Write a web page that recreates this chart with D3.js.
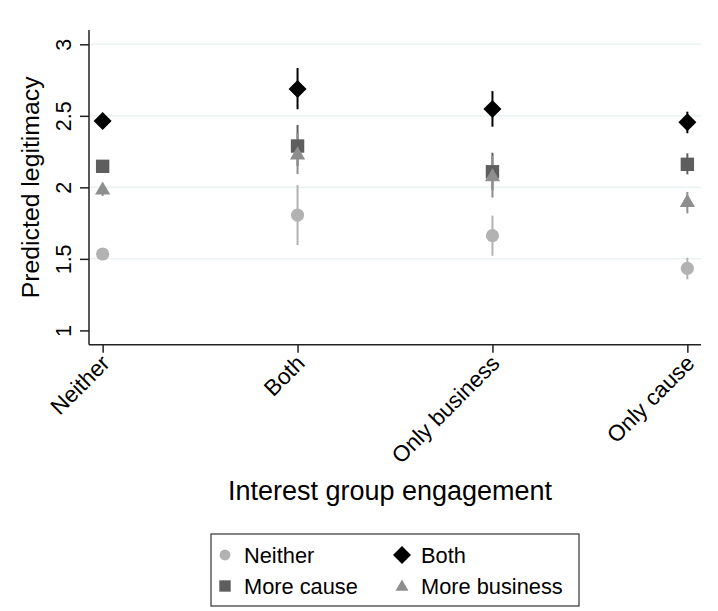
<!DOCTYPE html>
<html><head><meta charset="utf-8">
<script src="https://cdn.jsdelivr.net/npm/d3@7"></script>
<style>body{margin:0;background:#fff}svg{display:block}text{font-family:"Liberation Sans",Arial,sans-serif;fill:#000}</style>
</head><body><svg id="c" width="718" height="611"></svg>
<script>
const categories = ["Neither", "Both", "Only business", "Only cause"];
const seriesNames = ["Neither", "Both", "More cause", "More business"];
const neitherEst = [1.534, 1.806, 1.662, 1.434];
const neitherLo  = [1.494, 1.597, 1.522, 1.357];
const neitherHi  = [1.574, 2.016, 1.802, 1.508];
const bothEst = [2.464, 2.687, 2.548, 2.455];
const bothLo  = [2.424, 2.546, 2.424, 2.378];
const bothHi  = [2.504, 2.834, 2.673, 2.529];
const causeEst = [2.147, 2.289, 2.109, 2.161];
const causeLo  = [2.107, 2.150, 1.980, 2.091];
const causeHi  = [2.187, 2.436, 2.242, 2.238];
const busEst = [1.980, 2.225, 2.074, 1.893];
const busLo  = [1.940, 2.093, 1.928, 1.818];
const busHi  = [2.020, 2.380, 2.220, 1.968];
const yTicks = [1, 1.5, 2, 2.5, 3];
const yTickLabels = ["1", "1.5", "2", "2.5", "3"];

const svg = d3.select("#c");
const L = 89, R = 701, T = 30, B = 344.7;
const x = d3.scaleLinear().domain([0.93, 4.07]).range([L, R]);
const y = d3.scaleLinear().domain([0.9, 3.1]).range([B, T]);

const colors = ["#b2b2b2", "#000000", "#5e5e5e", "#8e8e8e"];
const shapes = ["circle", "diamond", "square", "triangle"];
function markerPath(shape) {
  if (shape === "circle") { const r = 6.6; return `M${-r},0A${r},${r} 0 1,0 ${r},0A${r},${r} 0 1,0 ${-r},0Z`; }
  if (shape === "diamond") { const r = 9; return `M0,${-r}L${r},0L0,${r}L${-r},0Z`; }
  if (shape === "square") { const s = 6.7; return `M${-s},${-s}H${s}V${s}H${-s}Z`; }
  const w = 7.6, h = 13.2; return `M0,${-2*h/3}L${w},${h/3}L${-w},${h/3}Z`;
}

// grid
svg.append("g").selectAll("line").data(yTicks.filter(v => v > 1)).join("line")
  .attr("x1", L).attr("x2", R).attr("y1", d => y(d)).attr("y2", d => y(d))
  .attr("stroke", "#eaf2f3").attr("stroke-width", 1.5);

// y axis
const ya = svg.append("g").attr("transform", `translate(${L},0)`)
  .call(d3.axisLeft(y).tickValues(yTicks).tickFormat((d, i) => yTickLabels[i]).tickSize(9).tickSizeOuter(0));
ya.select(".domain").attr("stroke", "#222").attr("stroke-width", 1.5).attr("d", `M0,${T}V${B}`);
ya.selectAll(".tick line").attr("stroke", "#222").attr("stroke-width", 1.5);
ya.selectAll(".tick text").attr("font-size", 21.5).attr("text-anchor", "middle")
  .attr("x", 0).attr("y", 0).attr("dy", 0)
  .attr("transform", "translate(-18.5,0) rotate(-90)");

// x axis
const xa = svg.append("g").attr("transform", `translate(0,${B})`)
  .call(d3.axisBottom(x).tickValues([1, 2, 3, 4]).tickFormat((d, i) => categories[i]).tickSize(8).tickSizeOuter(0));
xa.select(".domain").attr("stroke", "#222").attr("stroke-width", 1.5).attr("d", `M${L},0H${R}`);
xa.selectAll(".tick line").attr("stroke", "#222").attr("stroke-width", 1.5);
xa.selectAll(".tick text").attr("font-size", 22.5).attr("text-anchor", "end")
  .attr("x", 0).attr("y", 0).attr("dy", 0)
  .attr("transform", "translate(8,20) rotate(-45)");
svg.selectAll(".tick text").style("font-family", '"Liberation Sans",Arial,sans-serif').attr("fill", "#000");

// titles
svg.append("text").attr("transform", `translate(39,${(T + B) / 2}) rotate(-90)`)
  .attr("text-anchor", "middle").attr("font-size", 24.8).text("Predicted legitimacy");
svg.append("text").attr("x", 390).attr("y", 500).attr("text-anchor", "middle")
  .attr("font-size", 27).text("Interest group engagement");

// data
const series = [
  {est: neitherEst, lo: neitherLo, hi: neitherHi},
  {est: bothEst, lo: bothLo, hi: bothHi},
  {est: causeEst, lo: causeLo, hi: causeHi},
  {est: busEst, lo: busLo, hi: busHi}
];
series.forEach((s, k) => {
  svg.append("g").selectAll("line").data(s.est).join("line")
    .attr("x1", (d, i) => x(i + 1)).attr("x2", (d, i) => x(i + 1))
    .attr("y1", (d, i) => y(s.lo[i])).attr("y2", (d, i) => y(s.hi[i]))
    .attr("stroke", colors[k]).attr("stroke-width", 2);
});
series.forEach((s, k) => {
  svg.append("g").selectAll("path").data(s.est).join("path")
    .attr("d", markerPath(shapes[k]))
    .attr("transform", (d, i) => `translate(${x(i + 1)},${y(d)})`)
    .attr("fill", colors[k]);
});

// legend
const lg = svg.append("g");
lg.append("rect").attr("x", 211).attr("y", 534).attr("width", 368).attr("height", 72)
  .attr("fill", "#fff").attr("stroke", "#333").attr("stroke-width", 1.2);
const legPos = [[225, 555], [402, 555], [225, 586], [402, 586]];
const legScale = [0.82, 1, 0.85, 0.85];
seriesNames.forEach((n, k) => {
  lg.append("path").attr("d", markerPath(shapes[k]))
    .attr("transform", `translate(${legPos[k][0]},${legPos[k][1] + (shapes[k] === "triangle" ? 1 : 0)}) scale(${legScale[k]})`)
    .attr("fill", colors[k]);
  lg.append("text").attr("x", legPos[k][0] + 19).attr("y", legPos[k][1] + 8)
    .attr("font-size", 21.8).text(n);
});
</script></body></html>
